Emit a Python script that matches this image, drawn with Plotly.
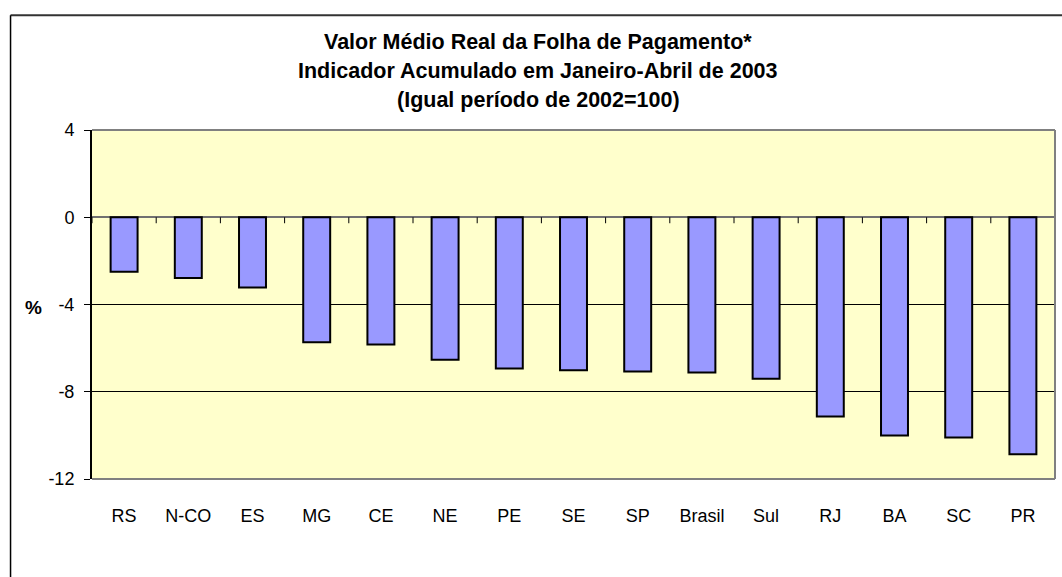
import plotly.graph_objects as go

categories = ["RS", "N-CO", "ES", "MG", "CE", "NE", "PE", "SE", "SP", "Brasil", "Sul", "RJ", "BA", "SC", "PR"]
values = [-2.5, -2.79, -3.22, -5.73, -5.83, -6.53, -6.93, -7.02, -7.07, -7.12, -7.4, -9.14, -10.01, -10.1, -10.86]
y_ticks = [4, 0, -4, -8, -12]
title_lines = [
    "Valor Médio Real da Folha de Pagamento*",
    "Indicador Acumulado em Janeiro-Abril de 2003",
    "(Igual período de 2002=100)",
]
y_label = "%"

W, H = 1062, 577
ML, MR, MT, MB = 91.5, 7, 130, 97.5
PW = W - ML - MR
PH = H - MT - MB
Y_MIN, Y_MAX = -12, 4


def px_x(px):
    return (px - ML) / PW


def px_y(py):
    return (H - MB - py) / PH


FONT = "Liberation Sans, Arial, sans-serif"
tick_len_units = 6 * (Y_MAX - Y_MIN) / PH

fig = go.Figure()
fig.add_trace(go.Bar(
    x=categories,
    y=values,
    marker=dict(color="#9999FF", line=dict(color="black", width=2)),
    hoverinfo="x+y",
))

shapes = []
# category tick marks on the zero line (between categories)
for i in range(-1, len(categories)):
    shapes.append(dict(
        type="line", xref="x", yref="y",
        x0=i + 0.5, x1=i + 0.5, y0=0, y1=-tick_len_units,
        line=dict(color="black", width=1), layer="above",
    ))
# plot area border (top, right, bottom) in grey
for (x0, y0, x1, y1) in [(0, 1, 1, 1), (1, 0, 1, 1), (0, 0, 1, 0)]:
    shapes.append(dict(type="line", xref="paper", yref="paper", x0=x0, y0=y0, x1=x1, y1=y1,
                       line=dict(color="#808080", width=2), layer="above"))
# chart area frame (top and left visible)
shapes.append(dict(type="line", xref="paper", yref="paper",
                   x0=px_x(10), x1=px_x(1075), y0=px_y(15), y1=px_y(15),
                   line=dict(color="#333333", width=2)))
shapes.append(dict(type="line", xref="paper", yref="paper",
                   x0=px_x(10), x1=px_x(10), y0=px_y(15), y1=px_y(590),
                   line=dict(color="black", width=1.5)))

annotations = []
for line, cy in zip(title_lines, [42, 71, 100]):
    annotations.append(dict(
        text="<b>" + line + "</b>", x=px_x(538), y=px_y(cy), xref="paper", yref="paper",
        xanchor="center", yanchor="middle", showarrow=False,
        font=dict(family=FONT, size=21.5, color="black"),
    ))
annotations.append(dict(
    text="<b>" + y_label + "</b>", x=px_x(33), y=px_y(308), xref="paper", yref="paper",
    xanchor="center", yanchor="middle", showarrow=False,
    font=dict(family=FONT, size=19, color="black"),
))

fig.update_layout(
    width=W, height=H,
    margin=dict(l=ML, r=MR, t=MT, b=MB, pad=0),
    paper_bgcolor="white",
    plot_bgcolor="#FFFFCC",
    bargap=0.58,
    showlegend=False,
    shapes=shapes,
    annotations=annotations,
    font=dict(family=FONT, size=18, color="black"),
    xaxis=dict(
        type="category", showgrid=False, showline=False, ticks="",
        tickfont=dict(family=FONT, size=18, color="black"),
        ticklabelstandoff=24,
        range=[-0.5, len(categories) - 0.5],
    ),
    yaxis=dict(
        range=[Y_MIN, Y_MAX], tickvals=y_ticks, ticktext=[str(v) for v in y_ticks],
        showgrid=True, gridcolor="black", gridwidth=1,
        zeroline=True, zerolinecolor="#707070", zerolinewidth=2,
        showline=True, linecolor="black", linewidth=2,
        ticks="outside", ticklen=6, tickcolor="black", tickwidth=1,
        tickfont=dict(family=FONT, size=18, color="black"),
        ticklabelstandoff=6,
    ),
)

fig.write_html(
    "out.html",
    config={"displayModeBar": False},
    post_script="document.body.style.margin='0';document.body.style.overflow='hidden';",
)
